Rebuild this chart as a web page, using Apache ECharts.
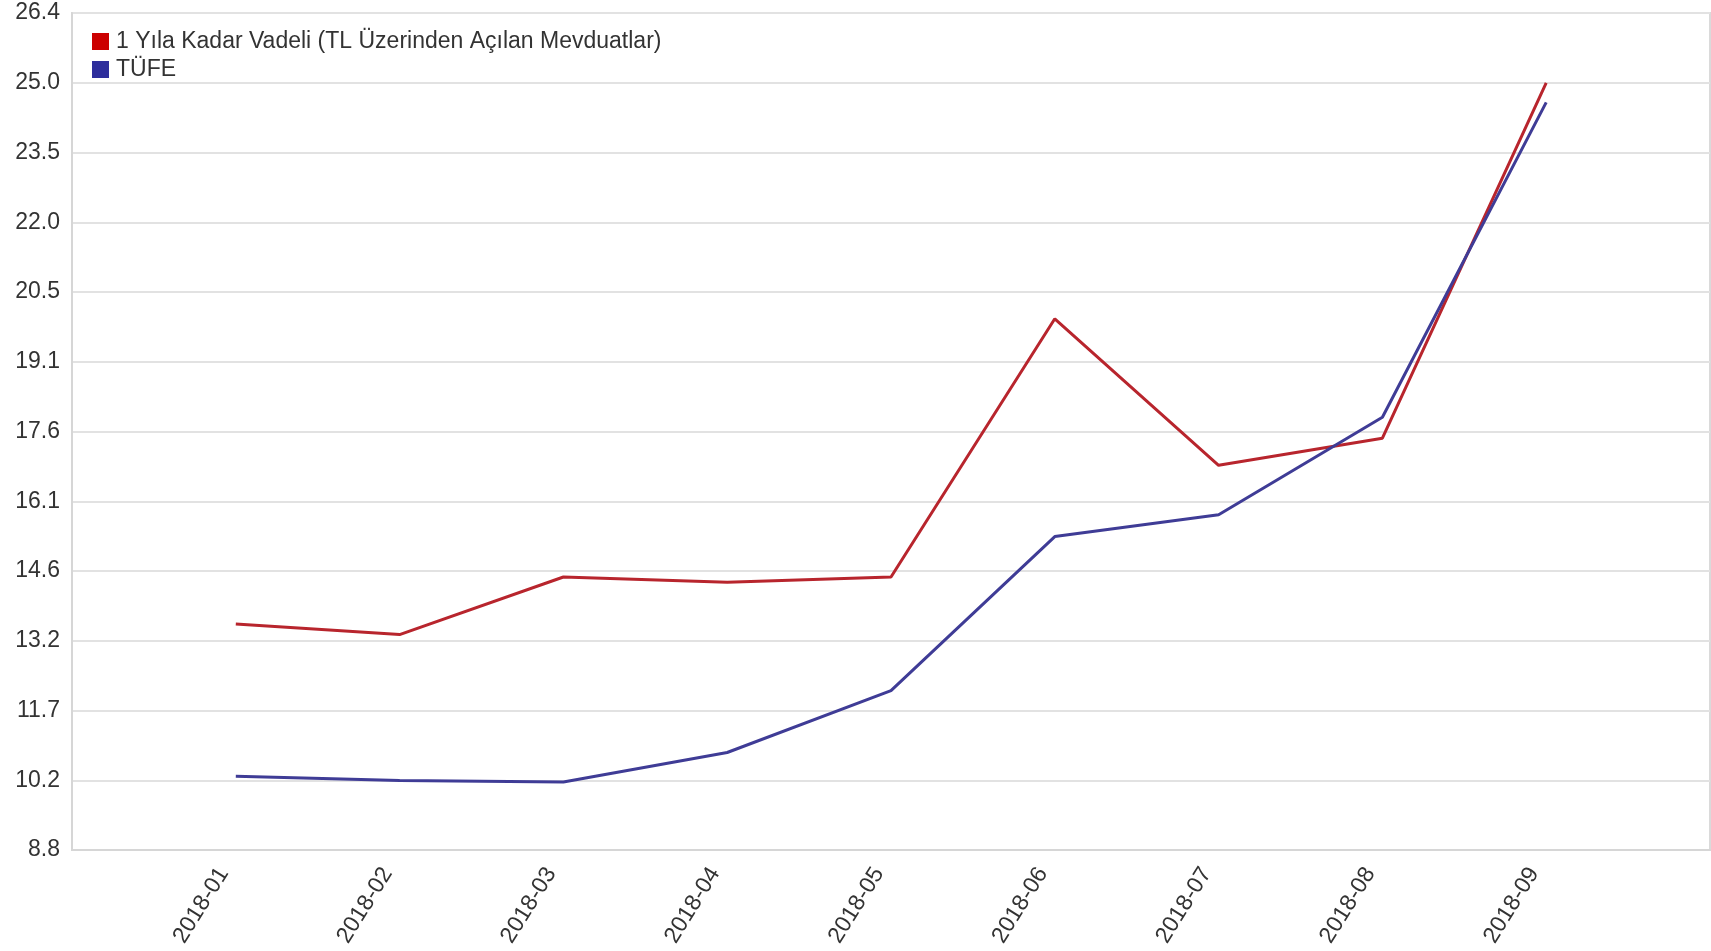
<!DOCTYPE html>
<html>
<head>
    <meta charset="UTF-8">
    <title>Mevduat - TÜFE</title>
    <script src="https://cdn.jsdelivr.net/npm/echarts@6/dist/echarts.min.js"></script>
    <style>
        *{margin:0;padding:0;}
        body,html{
            height: 100%;
            width: 100%;
            background: #fff;
        }
        #main{
            width: 1711px;
            height: 951px;
        }
    </style>
</head>
<body>
<div id="main"></div>
<script>
    // kategoriler (bas ve sondaki bos slotlar grafikteki bosluk icin)
    var months = ['', '2018-01', '2018-02', '2018-03', '2018-04', '2018-05', '2018-06', '2018-07', '2018-08', '2018-09', ''];
    // 1 yila kadar vadeli mevduat faizi
    var mevduat = [null, 13.55, 13.33, 14.54, 14.43, 14.54, 19.97, 16.89, 17.46, 24.93, null];
    // TÜFE yillik degisim
    var tufe = [null, 10.35, 10.26, 10.23, 10.85, 12.15, 15.39, 15.85, 17.90, 24.52, null];
    // y ekseni etiketleri (grafikte yazildigi gibi)
    var yLabels = ['8.8', '10.2', '11.7', '13.2', '14.6', '16.1', '17.6', '19.1', '20.5', '22.0', '23.5', '25.0', '26.4'];

    var yMin = 8.8;
    var yMax = 26.4;
    var yStep = (yMax - yMin) / 12;

    var myChart = echarts.init(document.getElementById('main'));

    var option = {
        animation: false,
        textStyle: {fontFamily: 'Liberation Sans, Arial, sans-serif'},
        legend: {
            orient: 'vertical',
            left: 87,
            top: 25,
            itemWidth: 17,
            itemHeight: 17,
            itemGap: 5,
            icon: 'rect',
            textStyle: {fontSize: 23, color: '#333', padding: [0, 0, 0, 2]},
            data: [
                {name: '1 Yıla Kadar Vadeli (TL Üzerinden Açılan Mevduatlar)', itemStyle: {color: '#cc0000'}},
                {name: 'TÜFE', itemStyle: {color: '#2e2e9c'}}
            ]
        },
        grid: {
            left: 72,
            right: 1,
            top: 13,
            bottom: 101,
            outerBoundsMode: 'none',
            containLabel: false,
            show: true,
            borderColor: '#dadada',
            borderWidth: 2
        },
        xAxis: {
            type: 'category',
            boundaryGap: false,
            data: months,
            axisLine: {show: true, lineStyle: {color: '#d6d6d6', width: 2}},
            axisTick: {show: false},
            splitLine: {show: false},
            axisLabel: {
                interval: 0,
                rotate: 58,
                margin: 0,
                fontSize: 23,
                color: '#333',
                padding: [0, 23, 57, 0]
            }
        },
        yAxis: {
            type: 'value',
            min: yMin,
            max: yMax,
            interval: yStep,
            axisLine: {show: true, lineStyle: {color: '#d6d6d6', width: 2}},
            axisTick: {show: false},
            splitLine: {lineStyle: {color: '#e2e2e2', width: 2}},
            axisLabel: {
                margin: 12,
                fontSize: 23,
                color: '#333',
                formatter: function (v, i) { return yLabels[i]; }
            }
        },
        series: [
            {
                name: '1 Yıla Kadar Vadeli (TL Üzerinden Açılan Mevduatlar)',
                type: 'line',
                data: mevduat,
                showSymbol: false,
                lineStyle: {color: '#b8252d', width: 3},
                itemStyle: {color: '#cc0000'}
            },
            {
                name: 'TÜFE',
                type: 'line',
                data: tufe,
                showSymbol: false,
                lineStyle: {color: '#3f3c96', width: 3},
                itemStyle: {color: '#2e2e9c'}
            }
        ]
    };
    myChart.setOption(option);
</script>
</body>
</html>
